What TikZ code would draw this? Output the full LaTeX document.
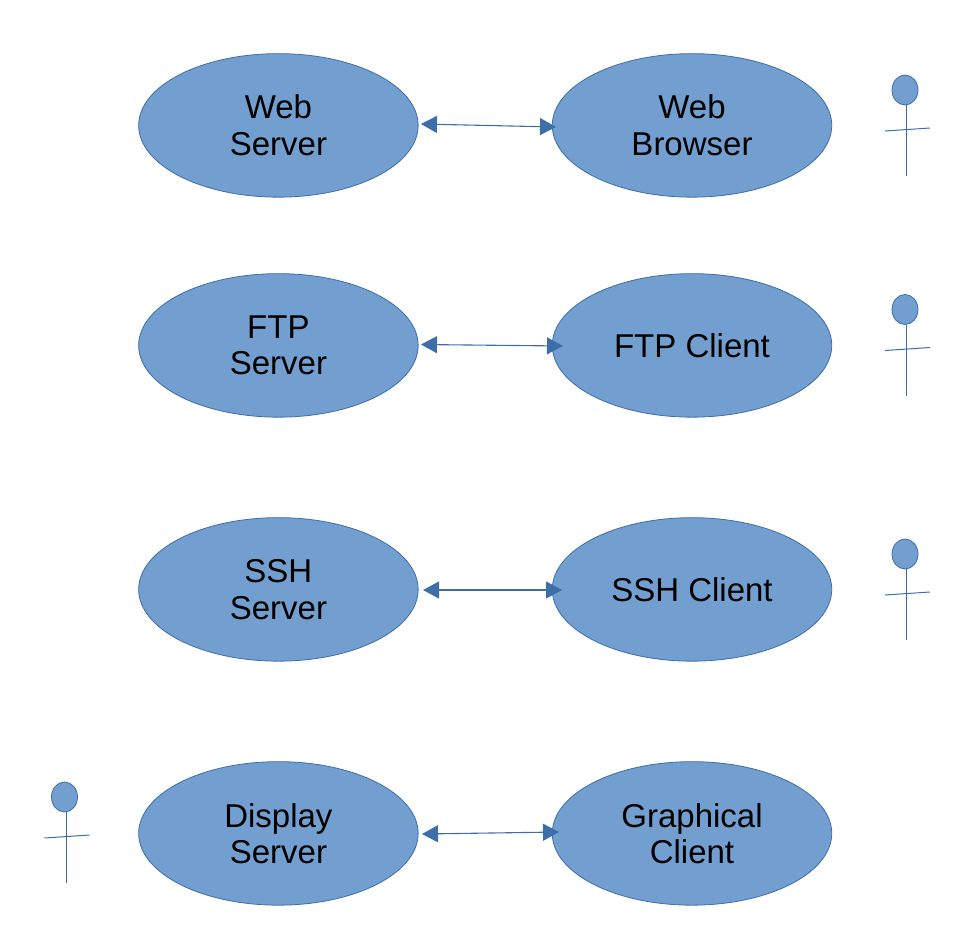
\documentclass[tikz,border=0pt]{standalone}
\usepackage{fontspec}
\setmainfont{Liberation Sans}
\usetikzlibrary{arrows.meta,shapes.geometric}
\definecolor{fillblue}{HTML}{729FCF}
\definecolor{lineblue}{HTML}{3465A4}
\tikzset{
  usecase/.style={ellipse,draw=lineblue!85!fillblue,fill=fillblue,line width=0.8pt,minimum width=279.5pt,minimum height=143.5pt,inner sep=0pt,align=center,font=\fontsize{33}{37}\selectfont,text=black},
  tightcase/.style={usecase,font=\fontsize{33}{36}\selectfont},
  headshape/.style={ellipse,draw=lineblue!85!fillblue,fill=fillblue,line width=0.8pt,minimum width=26pt,minimum height=30pt,inner sep=0pt},
  limb/.style={draw=lineblue!85!fillblue,line width=1pt},
  link/.style={draw=lineblue!85!fillblue,line width=1.1pt,{Triangle[length=16pt,width=17pt]}-{Triangle[length=16pt,width=17pt]}}
}
\begin{document}
\begin{tikzpicture}[x=1pt,y=-1pt]
\useasboundingbox (0,0) rectangle (979,935);
\node[usecase] (ws) at (278.4,125.4) {Web\\Server};
\node[usecase] (wb) at (692,125.4) {Web\\Browser};
\node[tightcase] (fs) at (278.4,345.4) {FTP\\Server};
\node[usecase] (fc) at (692,345.4) {FTP Client};
\node[usecase] (ss) at (278.4,589.4) {SSH\\Server};
\node[usecase] (sc) at (692,589.4) {SSH Client};
\node[tightcase] (ds) at (278.4,833.4) {Display\\Server};
\node[tightcase] (gc) at (692,833.4) {Graphical\\Client};
% connectors
\coordinate (a1) at (421,124); \coordinate (b1) at (556,127);
\coordinate (a2) at (421,344.5); \coordinate (b2) at (563,346);
\coordinate (a3) at (423,590); \coordinate (b3) at (562,590);
\coordinate (a4) at (422,834); \coordinate (b4) at (559,832);
\draw[link] (a1) -- (b1);
\draw[link] (a2) -- (b2);
\draw[link] (a3) -- (b3);
\draw[link] (a4) -- (b4);
% actors
\foreach \n/\hx/\hy in {p/905/90,q/905/309.5,r/905/554,s/64.5/797}{
  \node[headshape] (\n head) at (\hx,\hy) {};
  \coordinate (\n foot) at ([shift={(1.5,86)}]\n head.center);
  \coordinate (\n top) at ([shift={(1.5,15)}]\n head.center);
  \coordinate (\n la) at ([shift={(-20,41)}]\n head.center);
  \coordinate (\n ra) at ([shift={(25,38)}]\n head.center);
  \draw[limb] (\n top) -- (\n foot);
  \draw[limb] (\n la) -- (\n ra);
}
\end{tikzpicture}
\end{document}
